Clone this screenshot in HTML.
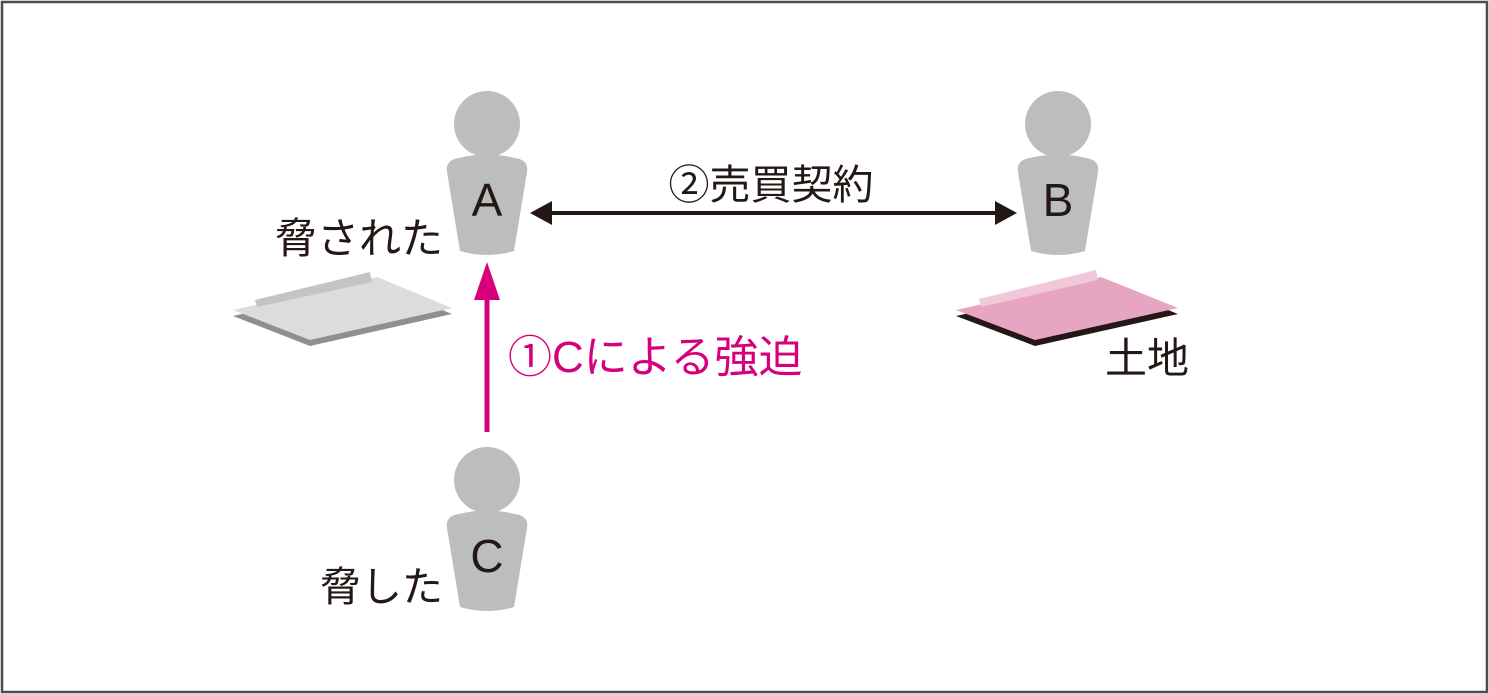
<!DOCTYPE html>
<html><head><meta charset="utf-8"><style>
html,body{margin:0;padding:0;background:#fff;}
svg{display:block;}
text{font-family:"Liberation Sans","Noto Sans CJK JP",sans-serif;fill:#231815;}
</style></head><body>
<svg width="1489" height="694" viewBox="0 0 1489 694" xmlns="http://www.w3.org/2000/svg">
<defs>
<g id="person">
<circle cx="0" cy="0" r="33" fill="#bcbdbd"/>
<path d="M-40,48 Q-42,36 -28,34 Q0,27 28,34 Q42,36 40,48 L27,127 Q0,135 -27,127 Z" fill="#bcbdbd"/>
</g>
</defs>
<rect x="2" y="2" width="1485" height="690" fill="#fff" stroke="#4d4d4d" stroke-width="2.5"/>

<polygon points="233,316 310,346 452,314 377,283" fill="#8f8f8f"/>
<polygon points="233,310 310,340 452,308 377,277" fill="#dcdcdc"/>
<path d="M255,300 L370,272 L372,282 L257,307 Z" fill="#c4c4c4"/>
<polygon points="956,316 1035,346 1178,314 1101,283" fill="#231815"/>
<polygon points="956,310 1035,340 1178,308 1101,277" fill="#e6a5c0"/>
<path d="M979,299 L1096,270 L1098,280 L981,307 Z" fill="#f0c8d8"/>

<use href="#person" x="487" y="124"/>
<use href="#person" x="1058" y="124"/>
<use href="#person" x="487" y="480"/>

<text x="487" y="216" font-size="46" text-anchor="middle">A</text>
<text x="1058" y="216" font-size="46" text-anchor="middle">B</text>
<text x="487" y="572" font-size="46" text-anchor="middle">C</text>

<line x1="545" y1="213" x2="1002" y2="213" stroke="#231815" stroke-width="4"/>
<polygon points="530,213 552,201 552,225" fill="#231815"/>
<polygon points="1017,213 995,201 995,225" fill="#231815"/>

<line x1="487" y1="432" x2="487" y2="290" stroke="#d6007c" stroke-width="5"/>
<polygon points="487,262 474,300 500,300" fill="#d6007c"/>

<text x="771" y="199" font-size="41" text-anchor="middle">②売買契約</text>
<text x="443" y="253" font-size="42" text-anchor="end">脅された</text>
<text x="508" y="372" font-size="44" style="fill:#d6007c">①Cによる強迫</text>
<text x="1105" y="373" font-size="42">土地</text>
<text x="443" y="601" font-size="41" text-anchor="end">脅した</text>
</svg>
</body></html>
